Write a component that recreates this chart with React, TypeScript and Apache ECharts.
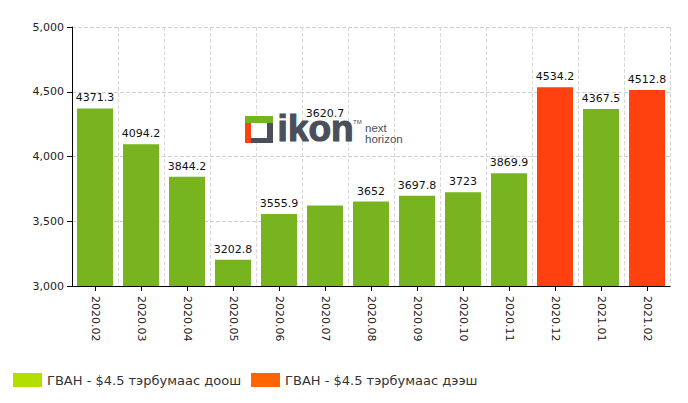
import React, { useEffect, useRef } from "react";
import * as echarts from "echarts";

const categories = ["2020.02", "2020.03", "2020.04", "2020.05", "2020.06", "2020.07", "2020.08", "2020.09", "2020.10", "2020.11", "2020.12", "2021.01", "2021.02"];
const values = [4371.3, 4094.2, 3844.2, 3202.8, 3555.9, 3620.7, 3652, 3697.8, 3723, 3869.9, 4534.2, 4367.5, 4512.8];
// true = above $4.5 billion
const aboveFlags = [false, false, false, false, false, false, false, false, false, false, true, false, true];
const seriesNames = ["ГВАН - $4.5 тэрбумаас доош", "ГВАН - $4.5 тэрбумаас дээш"];
const barColors = ["#77b41f", "#ff4110"];
const legendColors = ["#b3df00", "#ff6400"];
const yTicks = { min: 3000, max: 5000, interval: 500 };

const FONT = "'DejaVu Sans', Verdana, sans-serif";
const DARK = "#4b4f5c";

export default function App() {
  const ref = useRef<HTMLDivElement>(null);
  useEffect(() => {
    if (!ref.current) return;
    const chart = echarts.init(ref.current, null, { renderer: "svg" });
    const mk = (above: boolean) =>
      values.map((v, i) => {
        if (aboveFlags[i] !== above) return null;
        const item: any = { value: v };
        if (categories[i] === "2020.07") {
          item.label = { offset: [0, -82] };
        }
        return item;
      });
    chart.setOption({
      animation: false,
      textStyle: { fontFamily: FONT },
      grid: { left: 72, right: 18, top: 27, bottom: 117 },
      legend: {
        left: 8,
        top: 368,
        itemWidth: 29,
        itemHeight: 14,
        itemGap: 10,
        icon: "rect",
        textStyle: { fontSize: 13, color: "#333", fontFamily: FONT },
        data: seriesNames.map((n, i) => ({ name: n, itemStyle: { color: legendColors[i] } })),
      },
      xAxis: {
        type: "category",
        data: categories,
        axisLine: { lineStyle: { color: "#000", width: 1 } },
        axisTick: { show: true, alignWithLabel: true, interval: 0, length: 5, lineStyle: { color: "#000" } },
        axisLabel: { interval: 0, rotate: -90, color: "#222", fontSize: 11, fontFamily: FONT, margin: 10 },
        splitLine: { show: true, interval: 0, lineStyle: { type: "dashed", color: "#d8d8d8" } },
      },
      yAxis: {
        type: "value",
        min: yTicks.min,
        max: yTicks.max,
        interval: yTicks.interval,
        axisLine: { show: true, lineStyle: { color: "#000" } },
        axisTick: { show: true, length: 5, lineStyle: { color: "#000" } },
        axisLabel: {
          color: "#222",
          fontSize: 11,
          fontFamily: FONT,
          margin: 8,
          formatter: (v: number) => v.toLocaleString("en-US"),
        },
        splitLine: { show: true, lineStyle: { type: "dashed", color: "#d0d0d0" } },
      },
      graphic: [
        { type: "rect", left: 245, top: 116, shape: { width: 28, height: 27 }, style: { fill: DARK }, z: 1 },
        { type: "rect", left: 245, top: 116, shape: { width: 28, height: 7 }, style: { fill: "#73b51e" }, z: 2 },
        { type: "rect", left: 245, top: 123, shape: { width: 6, height: 20 }, style: { fill: "#ff4110" }, z: 2 },
        { type: "rect", left: 251, top: 123, shape: { width: 16, height: 15 }, style: { fill: "#fff" }, z: 2 },
        {
          type: "text", left: 277, top: 109, z: 2,
          style: {
            text: "ikon", fill: DARK, stroke: DARK, lineWidth: 1.2,
            font: "bold 37px 'Liberation Sans', Arial, sans-serif",
          },
        },
        {
          type: "text", left: 353, top: 119, z: 2,
          style: { text: "TM", fill: DARK, font: "6px 'Liberation Sans', Arial, sans-serif" },
        },
        {
          type: "text", left: 365, top: 122, z: 2,
          style: { text: "next", fill: DARK, font: "11.5px 'Liberation Sans', Arial, sans-serif", lineHeight: 11 },
        },
        {
          type: "text", left: 365, top: 133, z: 2,
          style: { text: "horizon", fill: DARK, font: "11.5px 'Liberation Sans', Arial, sans-serif", lineHeight: 11 },
        },
      ],
      series: [false, true].map((above, si) => ({
        name: seriesNames[si],
        type: "bar",
        stack: "total",
        barWidth: 36,
        z: 3,
        itemStyle: { color: barColors[si] },
        label: {
          show: true,
          position: "top",
          distance: 5,
          color: "#111",
          fontSize: 11,
          fontFamily: FONT,
        },
        data: mk(above),
      })),
    });
    return () => chart.dispose();
  }, []);
  return <div ref={ref} style={{ width: 688, height: 403, position: "absolute", left: 0, top: 0 }} />;
}
